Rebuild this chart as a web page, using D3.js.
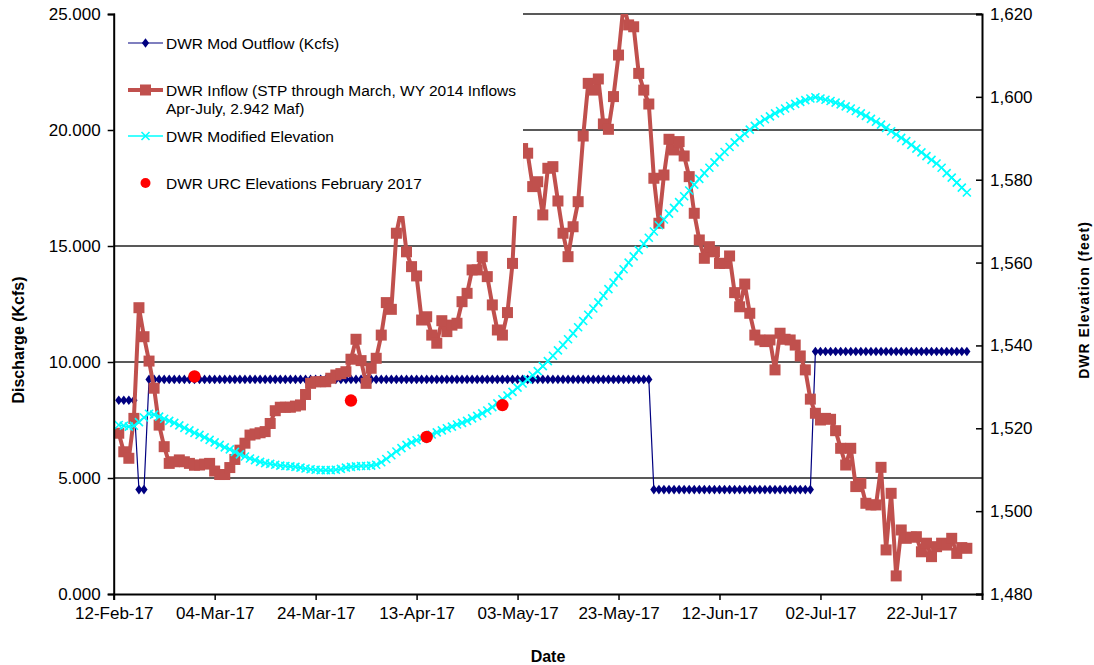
<!DOCTYPE html>
<html><head><meta charset="utf-8">
<script src="https://cdn.jsdelivr.net/npm/d3@7"></script>
<style>
html,body{margin:0;padding:0;background:#fff;}
svg{display:block;font-family:"Liberation Sans",Arial,sans-serif;}
</style></head>
<body><svg id="c" width="1094" height="665"></svg>
<script>
// ---------- DATA ----------
const startDate = "2017-02-13"; // first daily value
const axisStart = "2017-02-12";
const axisEnd = "2017-08-03";
const tickDates = ["2017-02-12","2017-03-04","2017-03-24","2017-04-13","2017-05-03","2017-05-23","2017-06-12","2017-07-02","2017-07-22"];
const leftTicks = [0,5,10,15,20,25];
const rightTicks = [1480,1500,1520,1540,1560,1580,1600,1620];

const outflow = [
8.35,8.35,8.35,8.35,4.5,4.5,
9.25,9.25,9.25,9.25,9.25,9.25,9.25,9.25,9.25,9.25,9.25,9.25,9.25,9.25,9.25,9.25,9.25,9.25,9.25,9.25,
9.25,9.25,9.25,9.25,9.25,9.25,9.25,9.25,9.25,9.25,9.25,9.25,9.25,9.25,9.25,9.25,9.25,9.25,9.25,9.25,
9.25,9.25,9.25,9.25,9.25,9.25,9.25,9.25,9.25,9.25,9.25,9.25,9.25,9.25,9.25,9.25,9.25,9.25,9.25,9.25,
9.25,9.25,9.25,9.25,9.25,9.25,9.25,9.25,9.25,9.25,9.25,9.25,9.25,9.25,9.25,9.25,9.25,9.25,9.25,9.25,
9.25,9.25,9.25,9.25,9.25,9.25,9.25,9.25,9.25,9.25,9.25,9.25,9.25,9.25,9.25,9.25,9.25,9.25,9.25,9.25,
4.5,4.5,4.5,4.5,4.5,4.5,4.5,4.5,4.5,4.5,4.5,4.5,4.5,4.5,4.5,4.5,
4.5,4.5,4.5,4.5,4.5,4.5,4.5,4.5,4.5,4.5,4.5,4.5,4.5,4.5,4.5,4.5,
10.45,10.45,10.45,10.45,10.45,10.45,10.45,10.45,10.45,10.45,10.45,10.45,10.45,10.45,10.45,10.45,
10.45,10.45,10.45,10.45,10.45,10.45,10.45,10.45,10.45,10.45,10.45,10.45,10.45,10.45,10.45];

const inflow = [
6.93,6.13,5.85,7.57,12.34,11.09,10.04,8.87,7.28,6.35,
5.63,5.70,5.78,5.70,5.63,5.55,5.56,5.60,5.63,5.30,
5.15,5.15,5.45,5.80,6.20,6.50,6.85,6.90,6.95,7.00,
7.35,7.90,8.05,8.05,8.05,8.10,8.15,8.60,9.08,9.15,
9.15,9.15,9.30,9.44,9.50,9.58,10.12,10.98,10.06,9.08,
9.73,10.16,11.16,12.56,12.27,15.55,16.60,14.75,14.11,13.71,
11.81,11.95,11.16,10.81,11.78,11.31,11.59,11.67,12.60,12.96,
13.97,13.97,14.54,13.68,12.46,11.38,11.16,12.13,14.25,18.50,
19.20,19.00,17.56,17.77,16.34,18.35,18.42,16.94,15.55,14.54,
15.83,16.91,19.74,22.01,21.72,22.20,20.26,20.03,21.44,23.23,
25.40,24.53,24.45,22.44,21.72,21.12,17.92,15.98,18.06,19.60,
19.14,19.50,18.88,17.99,16.41,15.26,14.47,14.97,14.75,14.25,
14.25,14.57,12.99,12.38,13.36,12.10,11.16,10.95,10.88,10.95,
9.66,11.24,10.98,10.95,10.73,10.26,9.66,8.40,7.79,7.50,
7.57,7.53,7.04,6.28,5.56,6.28,4.63,4.77,3.91,3.84,
3.84,5.46,1.90,4.34,0.78,2.76,2.40,2.45,2.47,1.82,
2.19,1.61,2.04,2.19,2.11,2.40,1.75,2.00,1.97];

const elevation = [
1520.8,1520.6,1520.4,1520.6,1521.5,1522.6,1523.5,1523.3,1522.8,1522.3,
1521.8,1521.3,1520.7,1520.1,1519.5,1518.9,1518.4,1517.8,1517.2,1516.6,
1516.0,1515.4,1514.9,1514.3,1513.7,1513.2,1512.7,1512.3,1511.9,1511.6,
1511.4,1511.2,1511.0,1510.9,1510.8,1510.7,1510.5,1510.3,1510.1,1510.0,
1509.9,1509.9,1509.9,1510.0,1510.2,1510.5,1510.7,1510.8,1510.9,1510.9,
1511.0,1511.2,1511.8,1512.6,1513.5,1514.4,1515.2,1516.0,1516.6,1517.1,
1517.5,1518.0,1518.5,1519.0,1519.5,1520.0,1520.4,1520.9,1521.3,1521.8,
1522.4,1523.0,1523.6,1524.3,1525.1,1526.0,1527.0,1527.9,1528.8,1529.8,
1530.8,1531.8,1532.8,1533.8,1535.0,1536.2,1537.5,1538.8,1540.1,1541.5,
1542.9,1544.4,1545.9,1547.4,1548.9,1550.4,1552.0,1553.6,1555.2,1556.8,
1558.4,1560.0,1561.5,1563.0,1564.5,1566.0,1567.5,1569.0,1570.4,1571.8,
1573.2,1574.6,1576.0,1577.4,1578.8,1580.2,1581.6,1582.9,1584.2,1585.5,
1586.7,1587.9,1589.0,1590.1,1591.1,1592.1,1593.0,1593.8,1594.6,1595.3,
1596.0,1596.6,1597.2,1597.8,1598.3,1598.8,1599.2,1599.6,1599.9,1599.6,
1599.3,1599.0,1598.6,1598.2,1597.7,1597.2,1596.6,1596.0,1595.4,1594.7,
1594.0,1593.3,1592.5,1591.7,1590.9,1590.1,1589.3,1588.4,1587.5,1586.6,
1585.7,1584.8,1583.9,1582.9,1581.6,1580.5,1579.3,1578.1,1576.9];

const urcDates = ["2017-02-28","2017-03-31","2017-04-15","2017-04-30"];
const urcElev = [1532.5,1526.7,1517.9,1525.6];

const legendLabels = ["DWR Mod Outflow (Kcfs)","DWR Inflow (STP through March, WY 2014 Inflows","Apr-July, 2.942 Maf)","DWR Modified Elevation","DWR URC Elevations February 2017"];

// ---------- CHART ----------
const svg = d3.select("#c");
const P = {l:113.7, r:982, t:14, b:594};
const parse = d3.utcParse("%Y-%m-%d");
const DAY = 86400000;
const t0 = parse(startDate);
const dates = inflow.map((_,i)=>new Date(t0.getTime()+i*DAY));

const x = d3.scaleUtc().domain([parse(axisStart), parse(axisEnd)]).range([P.l,P.r]);
const yL = d3.scaleLinear().domain([0,25]).range([P.b,P.t]);
const yR = d3.scaleLinear().domain([1480,1620]).range([P.b,P.t]);

const RED = "#C0504D", NAVY = "#000080", CYAN = "#00FFFF";

svg.append("defs").append("clipPath").attr("id","pc")
  .append("rect").attr("x",P.l).attr("y",P.t).attr("width",P.r-P.l).attr("height",P.b-P.t);

// gridlines
svg.append("g").selectAll("line").data(leftTicks.filter(v=>v>0)).join("line")
  .attr("x1",P.l).attr("x2",P.r).attr("y1",d=>yL(d)).attr("y2",d=>yL(d))
  .attr("stroke","#222").attr("stroke-width",1.3);

const plot = svg.append("g").attr("clip-path","url(#pc)");

// outflow
plot.append("path").datum(outflow)
  .attr("fill","none").attr("stroke",NAVY).attr("stroke-width",1.2)
  .attr("d",d3.line().x((d,i)=>x(dates[i])).y(d=>yL(d)));
const diamond = "M0,-4.8L3.6,0L0,4.8L-3.6,0Z";
plot.append("g").selectAll("path").data(outflow).join("path")
  .attr("d",diamond).attr("fill",NAVY)
  .attr("transform",(d,i)=>`translate(${x(dates[i])},${yL(d)})`);

// inflow
plot.append("path").datum(inflow)
  .attr("fill","none").attr("stroke",RED).attr("stroke-width",4).attr("stroke-linejoin","round")
  .attr("d",d3.line().x((d,i)=>x(dates[i])).y(d=>yL(d)));
plot.append("g").selectAll("rect").data(inflow).join("rect")
  .attr("x",(d,i)=>x(dates[i])-5.5).attr("y",d=>yL(d)-5.5)
  .attr("width",11).attr("height",11).attr("fill",RED);

// elevation
plot.append("path").datum(elevation)
  .attr("fill","none").attr("stroke",CYAN).attr("stroke-width",1.5)
  .attr("d",d3.line().x((d,i)=>x(dates[i])).y(d=>yR(d)));
const xMark = "M-4,-4L4,4M-4,4L4,-4";
plot.append("g").selectAll("path").data(elevation).join("path")
  .attr("d",xMark).attr("stroke",CYAN).attr("stroke-width",1.6).attr("fill","none")
  .attr("transform",(d,i)=>`translate(${x(dates[i])},${yR(d)})`);

// URC points
plot.append("g").selectAll("circle").data(urcElev).join("circle")
  .attr("cx",(d,i)=>x(parse(urcDates[i]))).attr("cy",d=>yR(d)).attr("r",6.2).attr("fill","#FF0000");

// legend box (covers plot)
svg.append("rect").attr("x",P.l+1).attr("y",P.t-1).attr("width",523-P.l-1).attr("height",216-P.t+1).attr("fill","#fff");
const lg = svg.append("g").attr("font-size",15.5).attr("fill","#000");
const lx1=128, lx2=163, lm=145.5, tx=166;
// 1
lg.append("line").attr("x1",lx1).attr("x2",lx2).attr("y1",43).attr("y2",43).attr("stroke",NAVY).attr("stroke-width",1.2);
lg.append("path").attr("d",diamond).attr("fill",NAVY).attr("transform",`translate(${lm},43)`);
lg.append("text").attr("x",tx).attr("y",48.5).text(legendLabels[0]);
// 2
lg.append("line").attr("x1",lx1).attr("x2",lx2).attr("y1",90).attr("y2",90).attr("stroke",RED).attr("stroke-width",4);
lg.append("rect").attr("x",lm-5.5).attr("y",84.5).attr("width",11).attr("height",11).attr("fill",RED);
lg.append("text").attr("x",tx).attr("y",95.5).text(legendLabels[1]);
lg.append("text").attr("x",tx).attr("y",113.5).text(legendLabels[2]);
// 3
lg.append("line").attr("x1",lx1).attr("x2",lx2).attr("y1",136).attr("y2",136).attr("stroke",CYAN).attr("stroke-width",1.5);
lg.append("path").attr("d",xMark).attr("stroke",CYAN).attr("stroke-width",1.6).attr("transform",`translate(${lm},136)`);
lg.append("text").attr("x",tx).attr("y",141.5).text(legendLabels[3]);
// 4
lg.append("circle").attr("cx",lm).attr("cy",183).attr("r",5).attr("fill","#FF0000");
lg.append("text").attr("x",tx).attr("y",188.5).text(legendLabels[4]);

// axes
const fs = 17;
const axL = svg.append("g").attr("transform",`translate(${P.l},0)`)
  .call(d3.axisLeft(yL).tickValues(leftTicks).tickFormat(d3.format(".3f")).tickSize(6).tickPadding(7));
const axR = svg.append("g").attr("transform",`translate(${P.r},0)`)
  .call(d3.axisRight(yR).tickValues(rightTicks).tickFormat(d3.format(",")).tickSize(-6).tickPadding(14));
const axB = svg.append("g").attr("transform",`translate(0,${P.b})`)
  .call(d3.axisBottom(x).tickValues(tickDates.map(parse)).tickFormat(d3.utcFormat("%d-%b-%y")).tickSize(6).tickPadding(7));
[axL,axR,axB].forEach(a=>{
  a.select(".domain").attr("stroke","#000").attr("stroke-width",2);
  a.selectAll(".tick line").attr("stroke","#000").attr("stroke-width",1.5);
  a.selectAll("text").attr("font-size",fs).attr("font-family","Liberation Sans, Arial, sans-serif").attr("fill","#000");
});
axR.selectAll(".tick text").attr("x",8);

// titles
svg.append("text").attr("x",548).attr("y",662).attr("text-anchor","middle")
  .attr("font-weight","bold").attr("font-size",16).text("Date");
svg.append("text").attr("transform","translate(24,340) rotate(-90)").attr("text-anchor","middle")
  .attr("font-weight","bold").attr("font-size",16).text("Discharge (Kcfs)");
svg.append("text").attr("transform","translate(1089,300) rotate(-90)").attr("text-anchor","middle")
  .attr("font-weight","bold").attr("font-size",14).attr("letter-spacing",1).text("DWR Elevation (feet)");
</script></body></html>
